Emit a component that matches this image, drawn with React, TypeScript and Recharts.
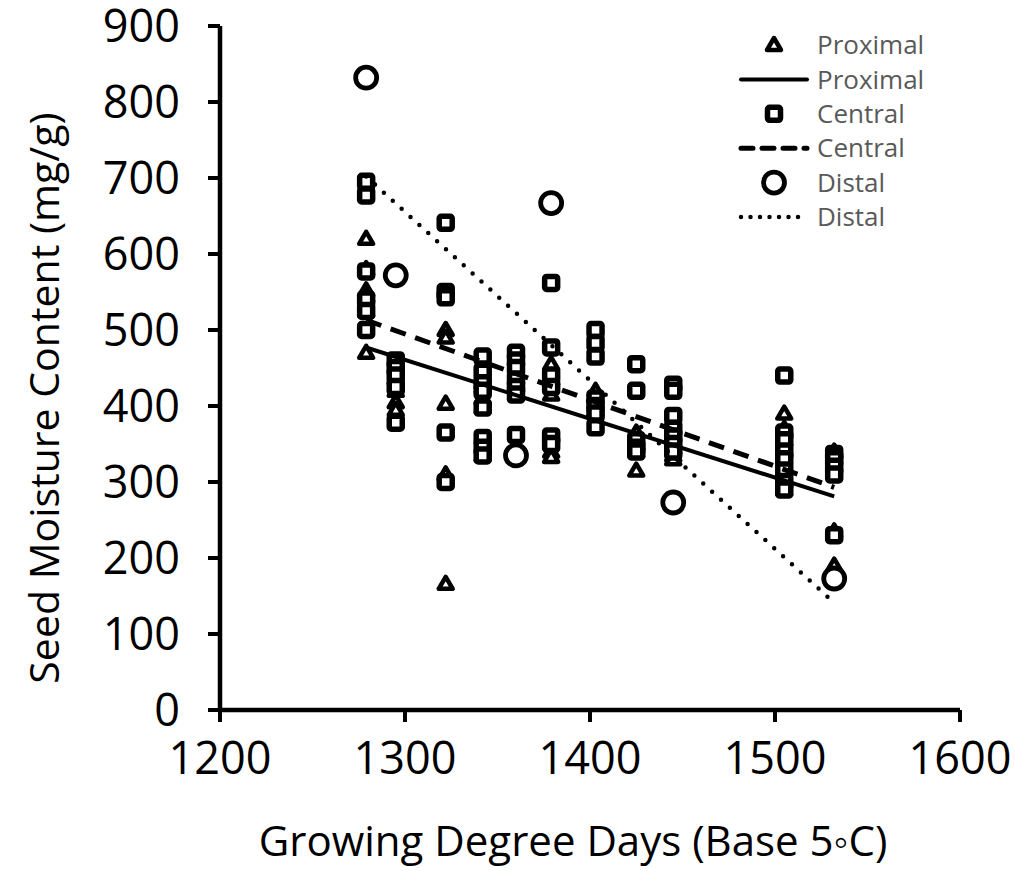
import React from "react";
import { ScatterChart, Scatter, XAxis, YAxis } from "recharts";

const gdd = [1279, 1295, 1322, 1342, 1360, 1379, 1403, 1425, 1445, 1505, 1532];

const proximal = [
  [620, 580, 552, 545, 525, 470],
  [436, 420, 405, 395],
  [500, 490, 403, 310, 166],
  [440, 425, 410, 398, 335],
  [430, 415],
  [455, 435, 415, 340, 333],
  [420, 405, 395],
  [365, 350, 340, 315],
  [345, 335, 330],
  [390, 370, 355, 305, 290],
  [340, 235, 190, 175],
];

const central = [
  [695, 677, 577, 540, 525, 500],
  [460, 450, 440, 425, 378],
  [641, 550, 543, 365, 300],
  [465, 445, 430, 420, 398, 358, 345, 335],
  [470, 460, 450, 435, 425, 415, 362],
  [562, 477, 440, 425, 360, 350],
  [500, 483, 465, 410, 400, 390, 372],
  [455, 420, 355, 345, 340],
  [428, 420, 387, 370, 360, 350, 340],
  [440, 365, 355, 340, 330, 315, 300, 290],
  [337, 330, 320, 310, 230],
];

const distalX = [1279, 1295, 1360, 1379, 1445, 1532];
const distalY = [832, 572, 335, 667, 273, 173];

// fitted trend lines, read at first and last GDD
const trendX = [1279, 1532];
const proximalTrend = [477, 281];
const centralTrend = [513, 293];
const distalTrend = [702, 141];

const xTicks = [1200, 1300, 1400, 1500, 1600];
const yTicks = [0, 100, 200, 300, 400, 500, 600, 700, 800, 900];

const legendItems = [
  { label: "Proximal", kind: "triangle" },
  { label: "Proximal", kind: "solid" },
  { label: "Central", kind: "square" },
  { label: "Central", kind: "dashed" },
  { label: "Distal", kind: "circle" },
  { label: "Distal", kind: "dotted" },
];

const flatten = (groups: number[][]) =>
  groups.flatMap((vals, i) => vals.map((y) => ({ x: gdd[i], y })));

const proximalData = flatten(proximal);
const centralData = flatten(central);
const distalData = distalX.map((x, i) => ({ x, y: distalY[i] }));
const toLine = (ys: number[]) => trendX.map((x, i) => ({ x, y: ys[i] }));

const FONT = "'Open Sans', sans-serif";

const Tri = ({ cx, cy }: any) => (
  <polygon
    points={`${cx},${cy - 7} ${cx + 7},${cy + 5} ${cx - 7},${cy + 5}`}
    fill="#fff"
    stroke="#000"
    strokeWidth={4.5}
    strokeLinejoin="round"
  />
);

const Sq = ({ cx, cy }: any) => (
  <rect x={cx - 6.5} y={cy - 6.5} width={13} height={13} rx={2} fill="#fff" stroke="#000" strokeWidth={5.5} />
);

const Circ = ({ cx, cy }: any) => (
  <circle cx={cx} cy={cy} r={10.5} fill="#fff" stroke="#000" strokeWidth={4.8} />
);

const Nothing = () => <g />;

const LegendBox = () => (
  <svg width={220} height={215} style={{ position: "absolute", left: 735, top: 25 }}>
    {legendItems.map((item, i) => {
      const y = 20 + i * 34.4;
      let mark: React.ReactNode = null;
      if (item.kind === "triangle") mark = <Tri cx={39} cy={y} />;
      if (item.kind === "square") mark = <Sq cx={39} cy={y} />;
      if (item.kind === "circle") mark = <Circ cx={39} cy={y} />;
      if (item.kind === "solid")
        mark = <line x1={6} x2={72} y1={y} y2={y} stroke="#000" strokeWidth={4} strokeLinecap="round" />;
      if (item.kind === "dashed")
        mark = (
          <line x1={6} x2={72} y1={y} y2={y} stroke="#000" strokeWidth={5} strokeDasharray="12 9" strokeLinecap="round" />
        );
      if (item.kind === "dotted")
        mark = (
          <line x1={6} x2={72} y1={y} y2={y} stroke="#000" strokeWidth={4.5} strokeDasharray="0 9.5" strokeLinecap="round" />
        );
      return (
        <g key={i}>
          {mark}
          <text x={82} y={y} dy="0.35em" fontSize={26} fill="#595959" fontFamily={FONT}>
            {item.label}
          </text>
        </g>
      );
    })}
  </svg>
);

export default function App() {
  return (
    <div style={{ position: "absolute", left: 0, top: 0, width: 1015, height: 871, background: "#fff" }}>
      <ScatterChart
        width={1015}
        height={871}
        margin={{ top: 26, right: 55, bottom: 0, left: 0 }}
        style={{ fontFamily: FONT }}
      >
        <XAxis
          type="number"
          dataKey="x"
          domain={[1200, 1600]}
          ticks={xTicks}
          height={161}
          axisLine={{ stroke: "#000", strokeWidth: 4.5 }}
          tickLine={{ stroke: "#000", strokeWidth: 4 }}
          tickSize={12}
          tickMargin={20}
          tick={{ fontSize: 45, fill: "#000" }}
          label={{
            content: ({ viewBox }: any) => (
              <text
                x={viewBox.x + viewBox.width / 2 - 17}
                y={viewBox.y + 131}
                dy="0.35em"
                textAnchor="middle"
                fontSize={42}
                fill="#000"
                fontFamily={FONT}
              >
                Growing Degree Days (Base 5◦C)
              </text>
            ),
          }}
        />
        <YAxis
          type="number"
          dataKey="y"
          domain={[0, 900]}
          ticks={yTicks}
          width={220}
          axisLine={{ stroke: "#000", strokeWidth: 4.5 }}
          tickLine={{ stroke: "#000", strokeWidth: 4 }}
          tickSize={12}
          tickMargin={28}
          tick={{ fontSize: 45, fill: "#000" }}
          label={{
            content: ({ viewBox }: any) => {
              const cx = 45;
              const cy = viewBox.y + viewBox.height / 2 + 30;
              return (
                <text
                  x={cx}
                  y={cy}
                  dy="0.35em"
                  textAnchor="middle"
                  fontSize={41}
                  fill="#000"
                  fontFamily={FONT}
                  transform={`rotate(-90 ${cx} ${cy})`}
                >
                  Seed Moisture Content (mg/g)
                </text>
              );
            },
          }}
        />
        <Scatter name="Proximal" data={proximalData} shape={Tri} isAnimationActive={false} />
        <Scatter name="Central" data={centralData} shape={Sq} isAnimationActive={false} />
        <Scatter name="Distal" data={distalData} shape={Circ} isAnimationActive={false} />
        <Scatter
          name="Proximal fit"
          data={toLine(proximalTrend)}
          shape={Nothing}
          line={{ stroke: "#000", strokeWidth: 4 }}
          isAnimationActive={false}
        />
        <Scatter
          name="Central fit"
          data={toLine(centralTrend)}
          shape={Nothing}
          line={{ stroke: "#000", strokeWidth: 5, strokeDasharray: "16 10" }}
          isAnimationActive={false}
        />
        <Scatter
          name="Distal fit"
          data={toLine(distalTrend)}
          shape={Nothing}
          line={{ stroke: "#000", strokeWidth: 4.5, strokeDasharray: "0 12", strokeLinecap: "round" }}
          isAnimationActive={false}
        />
      </ScatterChart>
      <LegendBox />
    </div>
  );
}
